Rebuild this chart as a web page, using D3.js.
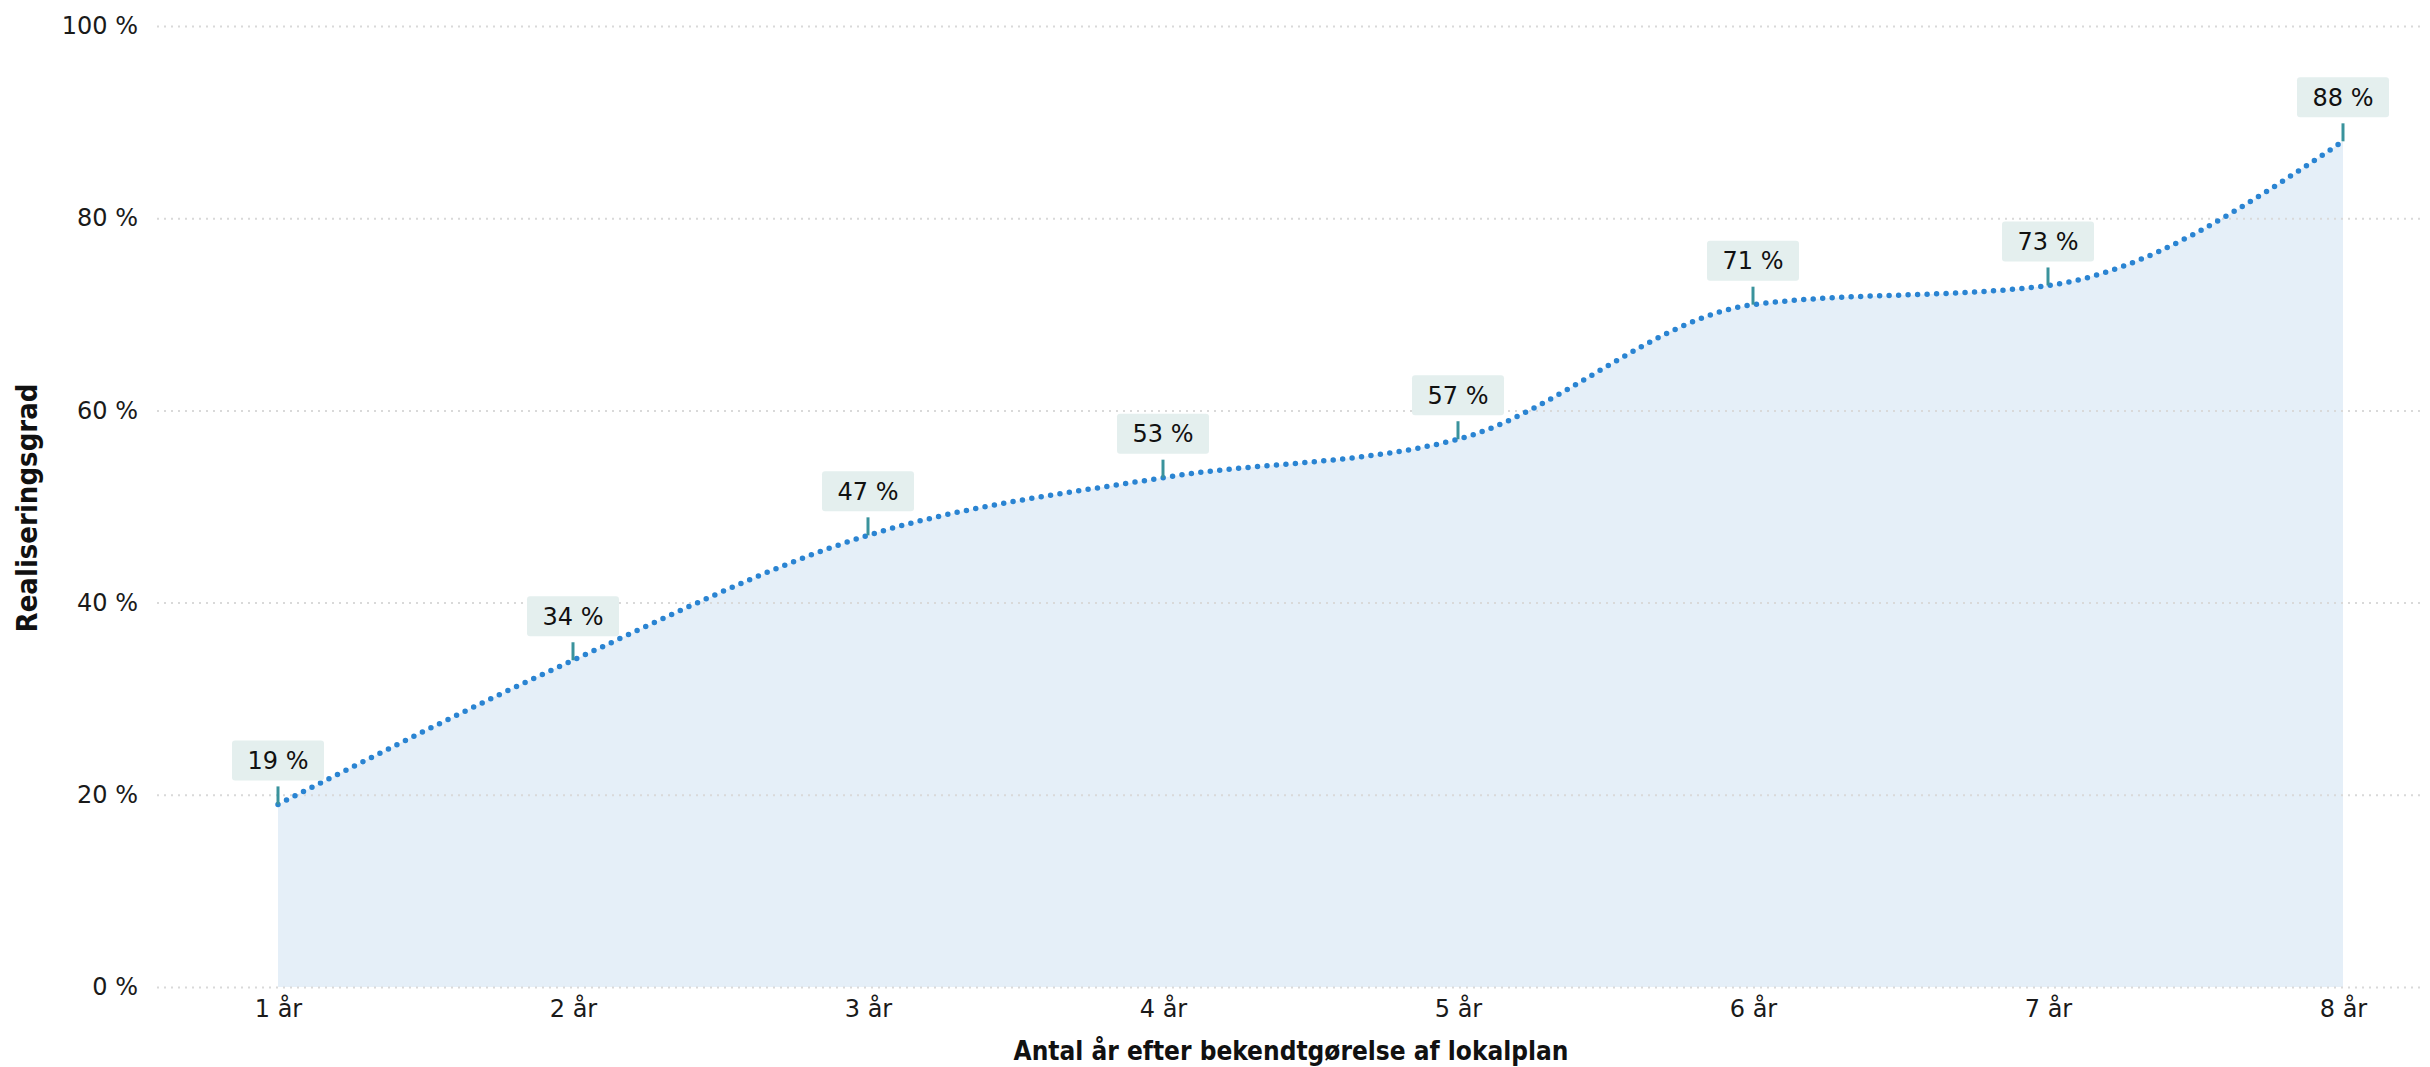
<!DOCTYPE html>
<html>
<head>
<meta charset="utf-8">
<script src="https://cdn.jsdelivr.net/npm/d3@7"></script>
<style>
  html, body { margin: 0; padding: 0; background: #fff; }
  svg { display: block; }
</style>
</head>
<body>
<svg id="chart" width="2430" height="1067"></svg>
<script>
// Realiseringsgrad efter antal år
const categories = ["1 år", "2 år", "3 år", "4 år", "5 år", "6 år", "7 år", "8 år"];
const values = [19, 34, 47, 53, 57, 71, 73, 88];
const yTicks = [0, 20, 40, 60, 80, 100];
const xTitle = "Antal år efter bekendtgørelse af lokalplan";
const yTitle = "Realiseringsgrad";

const W = 2430, H = 1067;
const svg = d3.select("#chart");

const x = d3.scalePoint().domain(categories).range([278, 2343]);
const y = d3.scaleLinear().domain([0, 100]).range([987, 26]);

const tickFont = "'DejaVu Sans', sans-serif";
const titleFont = "'Liberation Sans Narrow', 'DejaVu Sans Condensed', 'DejaVu Sans', sans-serif";

const data = categories.map((c, i) => ({ c, v: values[i] }));

// area under the curve
const area = d3.area()
  .x(d => x(d.c))
  .y0(y(0))
  .y1(d => y(d.v))
  .curve(d3.curveMonotoneX);

svg.append("path")
  .datum(data)
  .attr("d", area)
  .attr("fill", "#e5eff8");

// horizontal grid + y labels
const yAxis = d3.axisLeft(y)
  .tickValues(yTicks)
  .tickSize(-(2425 - 157))
  .tickPadding(20)
  .tickFormat(d => d + " %");

const gy = svg.append("g")
  .attr("transform", "translate(157,0)")
  .call(yAxis);
gy.select(".domain").remove();
gy.selectAll(".tick line")
  .attr("stroke", "#d9d9d9")
  .attr("stroke-width", 2)
  .attr("stroke-dasharray", "2 5");
gy.selectAll(".tick text")
  .attr("x", -19)
  .attr("fill", "#1a1a1a")
  .style("font-family", tickFont)
  .style("font-size", "24px");

// x labels
const xAxis = d3.axisBottom(x).tickSize(0).tickPadding(0);
const gx = svg.append("g")
  .attr("transform", "translate(0,1000)")
  .call(xAxis);
gx.select(".domain").remove();
gx.selectAll(".tick text")
  .attr("dy", "0.71em")
  .attr("fill", "#1a1a1a")
  .style("font-family", tickFont)
  .style("font-size", "24px");

// dotted line
const line = d3.line()
  .x(d => x(d.c))
  .y(d => y(d.v))
  .curve(d3.curveMonotoneX);

svg.append("path")
  .datum(data)
  .attr("d", line)
  .attr("fill", "none")
  .attr("stroke", "#2a84d2")
  .attr("stroke-width", 5.5)
  .attr("stroke-linecap", "round")
  .attr("stroke-dasharray", "0 9.5");

// value callouts
const labels = svg.append("g").selectAll("g")
  .data(data)
  .join("g")
  .attr("transform", d => `translate(${x(d.c)},${y(d.v)})`);

labels.append("line")
  .attr("x1", 0).attr("x2", 0)
  .attr("y1", 0).attr("y2", -18)
  .attr("stroke", "#3a939c")
  .attr("stroke-width", 3);

labels.append("rect")
  .attr("x", -46)
  .attr("y", -64)
  .attr("width", 92)
  .attr("height", 40)
  .attr("rx", 3)
  .attr("fill", "#e4efee");

labels.append("text")
  .attr("x", 0)
  .attr("y", -44)
  .attr("dy", "0.35em")
  .attr("text-anchor", "middle")
  .attr("fill", "#111")
  .style("font-family", tickFont)
  .style("font-size", "24px")
  .text(d => d.v + " %");

// axis titles
svg.append("text")
  .attr("x", 1291)
  .attr("y", 1060)
  .attr("text-anchor", "middle")
  .attr("fill", "#111")
  .style("font-family", titleFont)
  .style("font-weight", "bold")
  .style("font-size", "26px")
  .text(xTitle);

svg.append("text")
  .attr("transform", "translate(37,508) rotate(-90)")
  .attr("text-anchor", "middle")
  .attr("fill", "#111")
  .style("font-family", titleFont)
  .style("font-weight", "bold")
  .style("font-size", "29px")
  .text(yTitle);
</script>
</body>
</html>
